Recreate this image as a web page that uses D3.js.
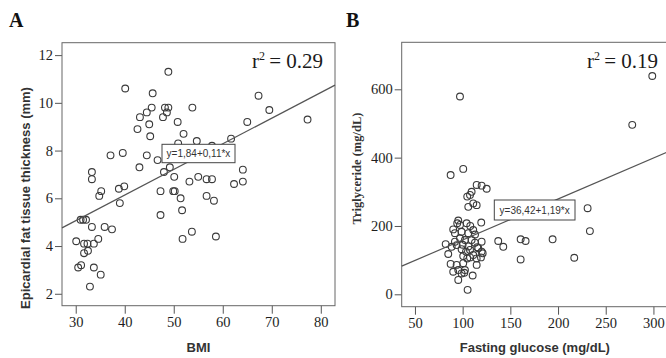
<!DOCTYPE html>
<html>
<head>
<meta charset="utf-8">
<script src="https://cdn.jsdelivr.net/npm/d3@7"></script>
<style>
  html, body { margin: 0; padding: 0; background: #fff; }
  svg { display: block; }
  .tick text { font-family: "Liberation Serif", "Times New Roman", serif; font-size: 14.5px; fill: #1e1e1e; }
  .tick line { stroke: #555; }
</style>
</head>
<body>
<div id="chart"></div>
<script>
// --- panel A: BMI vs epicardial fat tissue thickness
const bmiA = [48.9, 40.1, 45.7, 45.5, 48.2, 48.9, 48.6, 44.5, 43.1, 47.8, 53.8, 45.0, 50.8, 42.6, 45.2,
  52.0, 54.7, 50.9, 57.8, 61.7, 39.6, 37.1, 44.5, 46.7, 43.0, 49.2, 48.0, 50.1, 53.2, 55.0, 56.7, 57.8,
  64.1, 62.3, 64.1, 47.3, 49.9, 50.2, 51.4, 56.7, 58.2, 47.3, 51.7, 53.7, 51.8, 58.6, 67.3, 69.5, 65.0,
  77.3, 33.3, 33.3, 35.2, 34.8, 38.8, 39.9, 39.0, 31.0, 31.5, 32.1, 33.3, 35.9, 37.4, 30.1, 31.7, 32.4,
  33.7, 34.6, 31.7, 32.5, 30.5, 31.1, 33.7, 35.1, 32.9];
const eftA = [11.3, 10.6, 10.4, 9.8, 9.8, 9.8, 9.6, 9.6, 9.4, 9.4, 9.8, 9.1, 9.2, 8.9, 8.6,
  8.7, 8.4, 8.3, 8.2, 8.5, 7.9, 7.8, 7.8, 7.6, 7.3, 7.3, 7.1, 6.9, 6.7, 6.9, 6.8, 6.8,
  7.2, 6.6, 6.7, 6.3, 6.3, 6.3, 6.0, 6.1, 5.9, 5.3, 5.5, 4.6, 4.3, 4.4, 10.3, 9.7, 9.2,
  9.3, 7.1, 6.8, 6.3, 6.1, 6.4, 6.5, 5.8, 5.1, 5.1, 5.1, 4.8, 4.8, 4.7, 4.2, 4.1, 4.1,
  4.1, 4.3, 3.7, 3.8, 3.1, 3.2, 3.1, 2.8, 2.3];
const fitA = [1.84, 0.1074];
const ticksXA = [30, 40, 50, 60, 70, 80];
const ticksYA = [2, 4, 6, 8, 10, 12];

// --- panel B: fasting glucose vs triglyceride
const glucoseB = [97.2, 298.8, 277.8, 87.4, 100.6, 114.7, 119.9, 125.2, 109.4, 107.7, 104.8, 111.1, 114.7,
  105.9, 119.5, 137.3, 142.6, 160.8, 166.0, 160.8, 194.3, 217.0, 231.0, 233.4, 105.2,
  95.4, 94.3, 97.2, 104.2, 111.1, 90.1, 91.9, 98.9, 105.9, 82.2, 88.5, 91.9, 93.7, 97.2, 102.4,
  109.4, 112.9, 119.9, 98.9, 103.5, 107.7, 111.1, 116.4, 119.9, 100.6, 104.8, 107.7, 114.7, 119.2,
  87.4, 93.7, 100.6, 114.7, 90.1, 95.4, 98.9, 102.4, 101.7, 110.5, 95.4, 84.9, 121.0, 115.3,
  108.0, 113.0, 100.0, 106.0];
const tgB = [579, 639, 496, 349, 367, 320, 318, 309, 300, 291, 286, 266, 261,
  256, 210, 156, 139, 161, 156, 102, 161, 107, 252, 185, 13,
  216, 208, 203, 208, 188, 190, 179, 183, 179, 147, 139, 154, 144, 164, 159,
  159, 151, 154, 132, 125, 130, 115, 135, 125, 112, 105, 108, 105, 108,
  89, 86, 91, 86, 66, 71, 61, 71, 63, 55, 42, 118, 120, 138,
  200, 175, 145, 140];
const fitB = [39, 1.2];
const ticksXB = [50, 100, 150, 200, 250, 300];
const ticksYB = [0, 200, 400, 600];

const W = 666, H = 358;
const svg = d3.select('#chart').append('svg')
  .attr('width', W).attr('height', H);

function panel(opt) {
  const x = d3.scaleLinear().domain(opt.xDomain).range([opt.left, opt.right]);
  const y = d3.scaleLinear().domain(opt.yDomain).range([opt.bottom, opt.top]);
  const g = svg.append('g');

  g.append('g')
    .attr('transform', `translate(0,${opt.bottom})`)
    .call(d3.axisBottom(x).tickValues(opt.xTicks).tickSize(8).tickPadding(3))
    .call(a => a.select('.domain').remove());
  g.append('g')
    .attr('transform', `translate(${opt.left},0)`)
    .call(d3.axisLeft(y).tickValues(opt.yTicks).tickSize(7).tickPadding(2))
    .call(a => a.select('.domain').remove());

  // frame
  g.append('rect')
    .attr('x', opt.left).attr('y', opt.top)
    .attr('width', opt.right - opt.left).attr('height', opt.bottom - opt.top)
    .attr('fill', 'none').attr('stroke', '#666').attr('stroke-width', 1);

  const marks = g.append('g');

  // points
  marks.selectAll('circle')
    .data(opt.xs.map((v, i) => [v, opt.ys[i]]))
    .enter().append('circle')
    .attr('cx', d => x(d[0])).attr('cy', d => y(d[1]))
    .attr('r', 3.4)
    .attr('fill', 'none').attr('stroke', '#3a3a3a').attr('stroke-width', 1.1);

  // fit line
  const x0 = opt.xDomain[0], x1 = opt.xDomain[1];
  marks.append('line')
    .attr('x1', x(x0)).attr('y1', y(opt.fit[0] + opt.fit[1] * x0))
    .attr('x2', x(x1)).attr('y2', y(opt.fit[0] + opt.fit[1] * x1))
    .attr('stroke', '#555').attr('stroke-width', 1.2);

  // equation label
  const lb = opt.labelBox;
  g.append('rect')
    .attr('x', lb[0]).attr('y', lb[1]).attr('width', lb[2]).attr('height', lb[3])
    .attr('fill', '#fff').attr('stroke', '#444').attr('stroke-width', 1);
  g.append('text')
    .attr('x', lb[0] + lb[2] / 2).attr('y', lb[1] + lb[3] / 2 + 3.5)
    .attr('text-anchor', 'middle')
    .style('font-family', '"Liberation Sans", Arial, sans-serif')
    .style('font-size', '10px').attr('fill', '#333')
    .text(opt.eq);

  // r squared
  const r2 = g.append('text')
    .attr('x', opt.r2Pos[0]).attr('y', opt.r2Pos[1])
    .attr('text-anchor', 'end')
    .style('font-family', '"Liberation Serif", "Times New Roman", serif')
    .style('font-size', '21px').attr('fill', '#1a1a1a');
  r2.append('tspan').text('r');
  r2.append('tspan').attr('dy', -8).style('font-size', '12px').text('2');
  r2.append('tspan').attr('dy', 8).text('\u2009= ' + opt.r2);

  // axis titles
  g.append('text')
    .attr('x', (opt.left + Math.min(opt.right, W)) / 2 + opt.xTitleShift).attr('y', 352)
    .attr('text-anchor', 'middle')
    .style('font-family', '"Liberation Sans", Arial, sans-serif')
    .style('font-size', '13px').style('font-weight', 'bold').attr('fill', '#333')
    .text(opt.xTitle);
  g.append('text')
    .attr('transform', `translate(${opt.yTitlePos[0]},${opt.yTitlePos[1]}) rotate(-90)`)
    .attr('text-anchor', 'middle')
    .style('font-family', opt.yTitleFont)
    .style('font-size', opt.yTitleSize).style('font-weight', 'bold').attr('fill', '#333')
    .text(opt.yTitle);

  // panel letter
  g.append('text')
    .attr('x', opt.letterPos[0]).attr('y', opt.letterPos[1])
    .style('font-family', '"Liberation Serif", "Times New Roman", serif')
    .style('font-size', '20px').style('font-weight', 'bold').attr('fill', '#111')
    .text(opt.letter);
}

panel({
  left: 62, right: 335, top: 42.7, bottom: 305.7,
  xDomain: [27.2, 82.9], yDomain: [1.5, 12.52],
  xTicks: ticksXA, yTicks: ticksYA,
  xs: bmiA, ys: eftA, fit: fitA,
  eq: 'y=1,84+0,11*x', labelBox: [162, 144.3, 73, 18.4],
  r2: '0.29', r2Pos: [323, 68],
  xTitle: 'BMI', xTitleShift: 0,
  yTitle: 'Epicardial fat tissue thickness (mm)', yTitlePos: [29.5, 198],
  yTitleFont: '"Liberation Sans", Arial, sans-serif', yTitleSize: '13px',
  letter: 'A', letterPos: [9, 27]
});

panel({
  left: 401.7, right: 672.5, top: 42.3, bottom: 306.7,
  xDomain: [36.1, 320], yDomain: [-36.3, 737.6],
  xTicks: ticksXB, yTicks: ticksYB,
  xs: glucoseB, ys: tgB, fit: fitB,
  eq: 'y=36,42+1,19*x', labelBox: [494.3, 200, 80.7, 20],
  r2: '0.19', r2Pos: [658, 68],
  xTitle: 'Fasting glucose (mg/dL)', xTitleShift: 1,
  yTitle: 'Triglyceride (mg/dL)', yTitlePos: [361, 168.5],
  yTitleFont: '"Liberation Serif", "Times New Roman", serif', yTitleSize: '12.5px',
  letter: 'B', letterPos: [346, 27]
});
</script>
</body>
</html>
